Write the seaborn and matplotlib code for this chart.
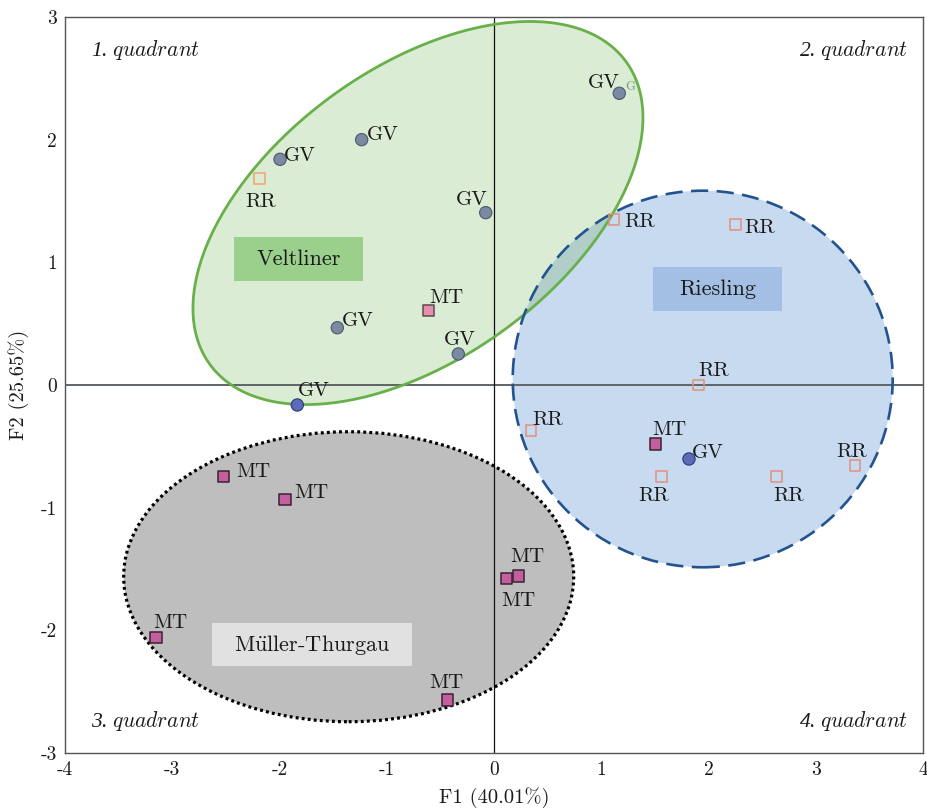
import numpy as np
import pandas as pd
import matplotlib
matplotlib.use("Agg")
import matplotlib.pyplot as plt
import seaborn as sns
from matplotlib.patches import Ellipse, Polygon, Rectangle

# ---- PCA scores (F1, F2) per wine sample ----
gv_f1 = [-1.995, -1.234, 1.168, -0.077, -1.461, -0.333, -1.834, 1.818]
gv_f2 = [1.840, 2.000, 2.378, 1.405, 0.467, 0.253, -0.163, -0.603]
gv_tone = ["slate", "slate", "slate", "slate", "slate", "slate", "indigo", "indigo"]

rr_f1 = [-2.188, 1.119, 2.254, 1.909, 0.345, 1.566, 2.636, 3.366]
rr_f2 = [1.682, 1.353, 1.310, 0.000, -0.372, -0.747, -0.747, -0.658]
rr_tone = ["orange", "salmon", "salmon", "salmon", "salmon", "salmon", "salmon", "salmon"]

mt_f1 = [-0.613, 1.508, -2.524, -1.949, 0.118, 0.227, -3.152, -0.432]
mt_f2 = [0.606, -0.481, -0.747, -0.937, -1.576, -1.557, -2.057, -2.568]
mt_tone = ["pink", "magenta", "magenta", "magenta", "magenta", "magenta", "magenta", "magenta"]

# ---- cluster regions ----
veltliner_center = (-0.709, 1.402)
veltliner_axis_a = (1.941, 1.233)
veltliner_axis_b = (-0.796, 0.958)
riesling_center = (1.946, 0.049)
riesling_size = (3.543, 3.070)
mueller_center = (-1.355, -1.563)
mueller_size = (4.196, 2.364)

x_ticks = [-4, -3, -2, -1, 0, 1, 2, 3, 4]
y_ticks = [-3, -2, -1, 0, 1, 2, 3]

# label placement: (dx, dy) in pixels from marker to text baseline-center
gv_label_off = [(20, -2), (21, 0), (-15, 5), (-14, 8), (21, 2), (2, 9), (17, 9), (19, 1)]
rr_label_off = [(1, -28), (26, -8), (24, -9), (15, 9), (17, 6), (-8, -24), (12, -24), (-3, 9)]
mt_label_off = [(18, 8), (14, 9), (30, 0), (26, 2), (12, -28), (9, 14), (14, 9), (-1, 12)]

tone_fill = {"slate": "#7b8aa2", "indigo": "#5b6bb8", "orange": "#eea56a",
             "salmon": "#e0917c", "pink": "#e88fab", "magenta": "#c45f9f"}
tone_edge = {"slate": "#4c586c", "indigo": "#2c3878", "orange": "#eea56a",
             "salmon": "#e0917c", "pink": "#5a4a50", "magenta": "#3a2232"}

sns.set_theme(style="white")
plt.rcParams["font.family"] = ["cmr10", "DejaVu Serif"]
plt.rcParams["mathtext.fontset"] = "cm"
plt.rcParams["axes.formatter.use_mathtext"] = True
plt.rcParams["axes.unicode_minus"] = False

fig = plt.figure(figsize=(9.27, 8.08), dpi=100)
ax = fig.add_axes([65 / 927, 1 - 753 / 808, 858 / 927, 736 / 808])
ax.set_xlim(-4, 4)
ax.set_ylim(-3, 3)

# cluster fills
ax.add_patch(Ellipse(riesling_center, *riesling_size, facecolor="#c8daf0",
                     edgecolor="none", zorder=1))
ax.add_patch(Ellipse(mueller_center, *mueller_size, facecolor="#bdbebd",
                     edgecolor="none", zorder=1))
t = np.linspace(0, 2 * np.pi, 400)
vc = np.array(veltliner_center)
va_ = np.array(veltliner_axis_a)
vb_ = np.array(veltliner_axis_b)
vpts = vc + np.outer(np.cos(t), va_) + np.outer(np.sin(t), vb_)
ax.add_patch(Polygon(vpts, closed=True, facecolor="#6ab04c", alpha=0.24,
                     edgecolor="none", zorder=1.2))

# zero lines
ax.axhline(0, color="#5f6468", lw=1.4, zorder=2)
ax.axvline(0, color="#111111", lw=0.9, zorder=2)

# cluster outlines
ax.add_patch(Polygon(vpts, closed=True, facecolor="none", edgecolor="#68b04a",
                     lw=2.0, zorder=3))
ax.add_patch(Ellipse(riesling_center, *riesling_size, facecolor="none",
                     edgecolor="#23538f", lw=1.9, linestyle=(0, (6.5, 3.2)), zorder=3))
ax.add_patch(Ellipse(mueller_center, *mueller_size, facecolor="none",
                     edgecolor="#000000", lw=2.3, linestyle=(0, (0.9, 1.0)), zorder=3))

# cluster name boxes
boxes = [
    ("Veltliner", (-2.424, 0.848), 1.203, 0.359, "#9bcf8c"),
    ("Riesling", (1.483, 0.601), 1.203, 0.359, "#a3bfe3"),
    (r"M$\mathrm{\ddot{u}}$ller-Thurgau", (-2.627, -2.293), 1.859, 0.353, "#e1e1e1"),
]
for name, (x0, y0), w, h, col in boxes:
    ax.add_patch(Rectangle((x0, y0), w, h, facecolor=col, edgecolor="none", zorder=3.5))
    ax.text(x0 + w / 2, y0 + h / 2, name, ha="center", va="center",
            fontsize=16, color="#1a1a1a", zorder=4)

# sample markers
df = pd.concat([
    pd.DataFrame({"F1": gv_f1, "F2": gv_f2, "tone": gv_tone, "cultivar": "GV"}),
    pd.DataFrame({"F1": rr_f1, "F2": rr_f2, "tone": rr_tone, "cultivar": "RR"}),
    pd.DataFrame({"F1": mt_f1, "F2": mt_f2, "tone": mt_tone, "cultivar": "MT"}),
], ignore_index=True)

styles = {"GV": ("o", 78, 0.8), "RR": ("s", 62, 1.1), "MT": ("s", 64, 1.1)}
for cult in ["GV", "RR", "MT"]:
    sub = df[df.cultivar == cult]
    marker, size, lw = styles[cult]
    n_before = len(ax.collections)
    sns.scatterplot(data=sub, x="F1", y="F2", hue="tone", palette=tone_fill,
                    marker=marker, s=size, linewidth=lw, legend=False, ax=ax, zorder=5)
    coll = ax.collections[n_before]
    edges = [tone_edge[tn] for tn in sub.tone]
    if cult == "RR":
        coll.set_facecolor("none")
    coll.set_edgecolor(edges)
    coll.set_linewidth(lw)

# sample labels
def put_labels(xs, ys, text, offsets):
    for x, y, (dx, dy) in zip(xs, ys, offsets):
        ax.annotate(text, (x, y), xytext=(dx, dy), textcoords="offset pixels",
                    ha="center", va="baseline", fontsize=15, color="#1a1a1a", zorder=6)

put_labels(gv_f1, gv_f2, "GV", gv_label_off)
put_labels(rr_f1, rr_f2, "RR", rr_label_off)
put_labels(mt_f1, mt_f2, "MT", mt_label_off)
ax.annotate("G", (gv_f1[2], gv_f2[2]), xytext=(11, 3), textcoords="offset pixels",
            ha="center", va="baseline", fontsize=9, color="#6f9a86", zorder=6)

# quadrant captions
qkw = dict(transform=ax.transAxes, fontsize=15.5, color="#1a1a1a", va="center",
           family="Liberation Serif", style="italic")
ax.text(0.030, 0.955, r"1. $\mathit{quadrant}$", ha="left", **qkw)
ax.text(0.983, 0.955, r"2. $\mathit{quadrant}$", ha="right", **qkw)
ax.text(0.030, 0.043, r"3. $\mathit{quadrant}$", ha="left", **qkw)
ax.text(0.983, 0.043, r"4. $\mathit{quadrant}$", ha="right", **qkw)

# axes
ax.set_xticks(x_ticks)
ax.set_xticklabels([str(v) for v in x_ticks])
ax.set_yticks(y_ticks)
ax.set_yticklabels([str(v) for v in y_ticks])
ax.tick_params(length=0, labelsize=14, colors="#1a1a1a", pad=6)
ax.set_xlabel("F1 (40.01%)", fontsize=14.8, color="#1a1a1a", labelpad=6)
ax.set_ylabel("F2 (25.65%)", fontsize=14.8, color="#1a1a1a", labelpad=8)
for sp in ax.spines.values():
    sp.set_color("#555555")
    sp.set_linewidth(1.0)
ax.grid(False)

fig.savefig("out.png", dpi=100)
